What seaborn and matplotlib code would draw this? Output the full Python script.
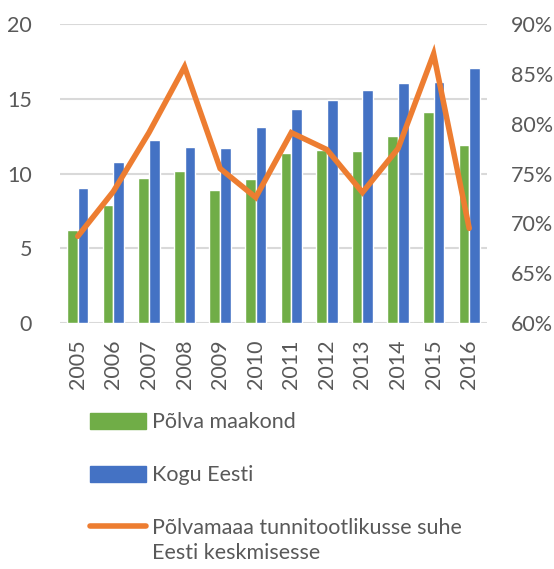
import numpy as np
import pandas as pd
import seaborn as sns
import matplotlib.pyplot as plt
from matplotlib.patches import Patch
from matplotlib.lines import Line2D
from matplotlib.ticker import FuncFormatter

# Data
years = ['2005', '2006', '2007', '2008', '2009', '2010',
         '2011', '2012', '2013', '2014', '2015', '2016']
polva = [6.2, 7.9, 9.7, 10.2, 8.9, 9.6, 11.35, 11.6, 11.5, 12.5, 14.1, 11.9]
eesti = [9.0, 10.75, 12.25, 11.8, 11.7, 13.1, 14.3, 14.9, 15.6, 16.05, 16.15, 17.05]
ratio = [0.687, 0.732, 0.791, 0.857, 0.755, 0.726, 0.791, 0.774, 0.731, 0.775, 0.870, 0.695]

lbl_green = 'Põlva maakond'
lbl_blue = 'Kogu Eesti'
lbl_line = ['Põlvamaaa tunnitootlikusse suhe', 'Eesti keskmisesse']

green = '#70AD47'
blue = '#4472C4'
orange = '#ED7D31'
grey = '#595959'

sns.set_style('white')
plt.rcParams['font.family'] = ['Lato', 'DejaVu Sans']

df = pd.DataFrame({'year': years * 2,
                   'value': polva + eesti,
                   'series': [lbl_green] * len(years) + [lbl_blue] * len(years)})

fig = plt.figure(figsize=(5.54, 5.69), dpi=100)
ax = fig.add_axes([60 / 554, 1 - 323 / 569, 427 / 554, 299 / 569])

sns.barplot(data=df, x='year', y='value', hue='series', palette=[green, blue],
            width=0.6, gap=0, saturation=1, ax=ax, legend=False, zorder=2)
ax.set_ylim(0, 20)
ax.set_yticks([0, 5, 10, 15, 20])
ax.set_xlim(-0.5, len(years) - 0.5)
ax.grid(axis='y', color='#D9D9D9', lw=1.5, zorder=0)
ax.set_axisbelow(True)
ax.set_xlabel('')
ax.set_ylabel('')
for s in ax.spines.values():
    s.set_visible(False)
ax.tick_params(axis='x', labelrotation=90, labelsize=15.5, colors=grey, length=0, pad=12)
ax.tick_params(axis='y', labelsize=15.5, colors=grey, length=0, pad=20)

ax2 = ax.twinx()
sns.lineplot(x=np.arange(len(years)), y=ratio, color=orange, lw=4, ax=ax2,
             solid_capstyle='round', solid_joinstyle='miter')
ax2.set_ylim(0.60, 0.90)
ax2.set_yticks(np.arange(0.60, 0.901, 0.05))
ax2.yaxis.set_major_formatter(FuncFormatter(lambda v, p: f'{v * 100:.0f}%'))
ax2.tick_params(axis='y', labelsize=15.5, colors=grey, length=0, pad=17)
for s in ax2.spines.values():
    s.set_visible(False)

# legend below the plot; second line of the last label added as plain text
handles = [Patch(color=green), Patch(color=blue),
           Line2D([0], [0], color=orange, lw=4, solid_capstyle='round')]
leg = fig.legend(handles, [lbl_green, lbl_blue, lbl_line[0]], loc='upper left',
                 bbox_to_anchor=(71 / 554, 1 - 393 / 569), frameon=False,
                 fontsize=15.5, labelcolor=grey, labelspacing=1.53,
                 handlelength=2.6, handleheight=0.8, handletextpad=0.25)
fig.canvas.draw()
bb = leg.get_texts()[2].get_window_extent().transformed(fig.transFigure.inverted())
fig.text(bb.x0, bb.y0 - 25 / 569, lbl_line[1], fontsize=15.5, color=grey,
         ha='left', va='bottom')

plt.savefig('out.png', dpi=100)
